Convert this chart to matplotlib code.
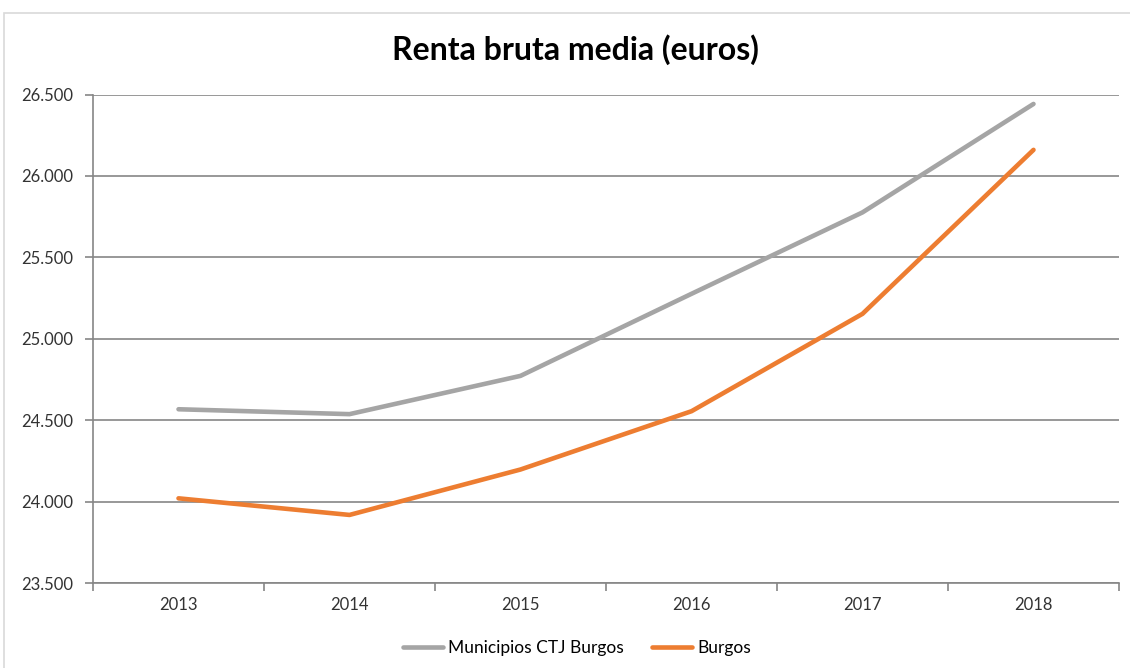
import matplotlib
matplotlib.use("Agg")
import matplotlib.pyplot as plt
from matplotlib.patches import Rectangle
from matplotlib.ticker import FuncFormatter, FixedLocator

plt.rcParams["font.family"] = ["Lato", "DejaVu Sans"]

years = ["2013", "2014", "2015", "2016", "2017", "2018"]
ctj = [24567, 24537, 24772, 25276, 25776, 26442]
burgos = [24020, 23918, 24197, 24555, 25153, 26160]

GRAY = "#A5A5A5"
ORANGE = "#ED7D31"
AXIS = "#868686"

fig = plt.figure(figsize=(11.3, 6.68), dpi=100)
fig.patches.append(Rectangle((4 / 1130, -0.01), 1.1, 1 - 13 / 668 + 0.01,
                             transform=fig.transFigure, fill=False,
                             edgecolor="#D9D9D9", linewidth=1.2))
ax = fig.add_axes([93 / 1130, 1 - 583 / 668, 1026 / 1130, 488.5 / 668])

x = list(range(len(years)))
ax.plot(x, ctj, color=GRAY, lw=3.3, solid_capstyle="round",
        solid_joinstyle="round", label="Municipios CTJ Burgos")
ax.plot(x, burgos, color=ORANGE, lw=3.3, solid_capstyle="round",
        solid_joinstyle="round", label="Burgos")

ax.set_xlim(-0.5, len(years) - 0.5)
ax.set_ylim(23500, 26500)
ax.set_yticks([23500, 24000, 24500, 25000, 25500, 26000, 26500])
ax.yaxis.set_major_formatter(FuncFormatter(lambda v, p: f"{v:,.0f}".replace(",", ".")))
ax.set_xticks(x)
ax.set_xticklabels(years)
ax.xaxis.set_minor_locator(FixedLocator([i - 0.5 for i in range(len(years) + 1)]))
ax.tick_params(axis="x", which="major", length=0, pad=10, labelsize=12, labelcolor="#333333")
ax.tick_params(axis="x", which="minor", length=6, color=AXIS, width=1.2)
ax.tick_params(axis="y", length=6, color=AXIS, width=1.2, pad=8, labelsize=12, labelcolor="#333333")

ax.grid(axis="y", color=AXIS, lw=1.2)
ax.set_axisbelow(True)
for s in ["top", "right"]:
    ax.spines[s].set_visible(False)
for s in ["left", "bottom"]:
    ax.spines[s].set_color(AXIS)
    ax.spines[s].set_linewidth(1.2)

fig.text(575 / 1130, 1 - 50 / 668, "Renta bruta media (euros)", ha="center", va="center",
         fontsize=23, fontweight="bold", color="black")

fig.legend(loc="center", bbox_to_anchor=(577 / 1130, 1 - 648 / 668), ncol=2,
           frameon=False, fontsize=12.5, handlelength=2.3, columnspacing=1.6,
           handletextpad=0.3)

fig.savefig("out.png", dpi=100, facecolor="white")
